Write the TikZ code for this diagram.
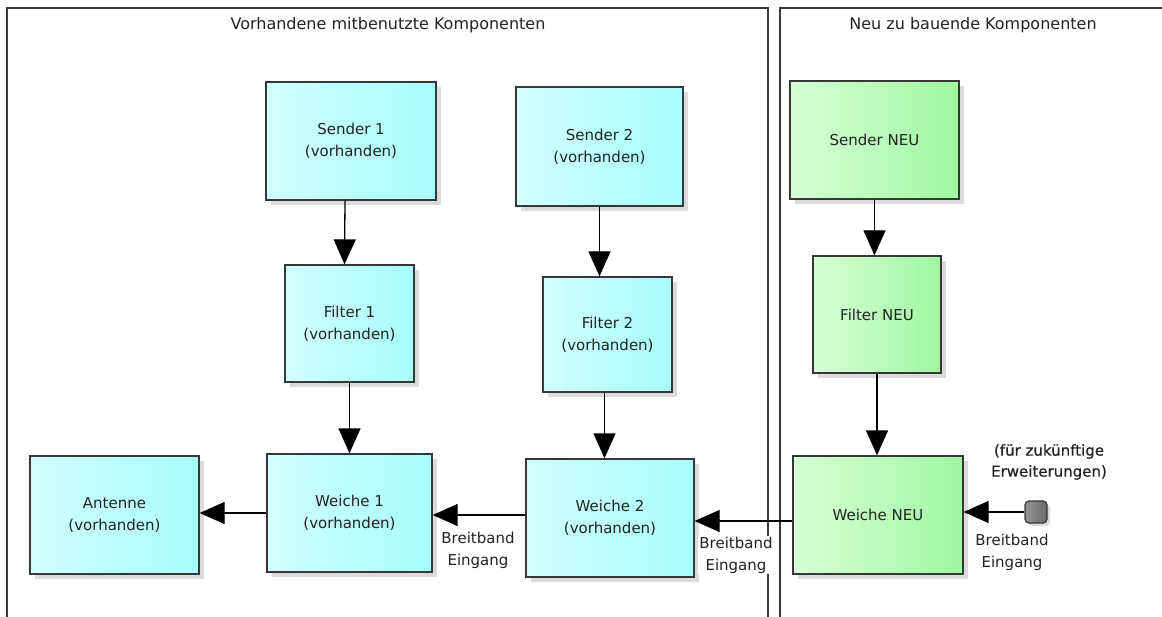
\documentclass[tikz,border=0pt]{standalone}
\usepackage{fontspec}
\setmainfont{DejaVu Sans}
\newfontfamily\semibfont[FakeBold=0.6]{DejaVu Sans}
\usetikzlibrary{arrows.meta,shadows}
\definecolor{cyanL}{RGB}{210,255,255}
\definecolor{cyanR}{RGB}{166,252,252}
\definecolor{grnL}{RGB}{214,255,214}
\definecolor{grnR}{RGB}{160,248,160}
\definecolor{frm}{RGB}{55,55,55}
\definecolor{txt}{RGB}{35,35,35}
\tikzset{
  box/.style={draw=frm, line width=1.3pt, inner sep=2pt, align=center,
    font=\fontsize{15}{22}\selectfont, text=txt,
    drop shadow={shadow xshift=5pt, shadow yshift=-5pt, fill=black!14, opacity=1}},
  oldbox/.style={box, left color=cyanL, right color=cyanR},
  newbox/.style={box, left color=grnL, right color=grnR},
  arr/.style={draw=black, line width=1.3pt, -{Triangle[length=25pt,width=22pt]}},
  lbl/.style={align=center, font=\fontsize{15}{22}\selectfont, text=txt, inner sep=1pt},
  ttl/.style={font=\fontsize{16}{20}\selectfont, text=txt},
  frame/.style={draw=frm, line width=1.3pt},
}
\begin{document}
\begin{tikzpicture}[x=1pt,y=-1pt]
\useasboundingbox[fill=white] (0,0) rectangle (1162,617);
% frames
\draw[frame] (7,617) -- (7,8) -- (768,8) -- (768,617);
\draw[frame] (780,617) -- (780,8) -- (1162,8);
\node[ttl] (t1) at (388,25) {Vorhandene mitbenutzte Komponenten};
\node[ttl] (t2) at (973,25) {Neu zu bauende Komponenten};
% boxes
\node[oldbox, minimum width=170pt, minimum height=118pt] (s1) at (351,141) {Sender 1\\(vorhanden)};
\node[oldbox, minimum width=129pt, minimum height=117pt] (f1) at (349.5,323.5) {Filter 1\\(vorhanden)};
\node[oldbox, minimum width=167pt, minimum height=119pt] (s2) at (599.5,146.5) {Sender 2\\(vorhanden)};
\node[oldbox, minimum width=129pt, minimum height=115pt] (f2) at (607.5,334.5) {Filter 2\\(vorhanden)};
\node[oldbox, minimum width=169pt, minimum height=118pt] (ant) at (114.5,515) {Antenne\\(vorhanden)};
\node[oldbox, minimum width=165pt, minimum height=118pt] (w1) at (349.5,513) {Weiche 1\\(vorhanden)};
\node[oldbox, minimum width=168pt, minimum height=118pt] (w2) at (610,518) {Weiche 2\\(vorhanden)};
\node[newbox, minimum width=169pt, minimum height=118pt] (sN) at (874.5,140) {Sender NEU};
\node[newbox, minimum width=128pt, minimum height=117pt] (fN) at (877,314.5) {Filter NEU};
\node[newbox, minimum width=170pt, minimum height=118pt] (wN) at (878,515) {Weiche NEU};
\node[draw=frm, line width=1.2pt, rounded corners=4pt, minimum size=22pt, inner sep=0pt,
  left color=black!42, right color=black!58,
  drop shadow={shadow xshift=3pt, shadow yshift=-3pt, fill=black!14, opacity=1}] (port) at (1036,512) {};
% labels
\node[lbl] (l1) at (478,550) {Breitband\\Eingang};
\node[lbl, fill=white] (l2) at (736,555) {Breitband\\Eingang};
\node[lbl] (l3) at (1012,552) {Breitband\\Eingang};
\node[lbl, font=\semibfont\fontsize{15}{21}\selectfont] (l4) at (1049,462) {(für zukünftige\\Erweiterungen)};
% connectors
\draw[arr] ([xshift=-6pt]s1.south) -- ([xshift=-5pt]f1.north);
\draw[arr] (f1.south) -- (f1.south |- w1.north);
\draw[arr] (s2.south) -- (s2.south |- f2.north);
\draw[arr] ([xshift=-3pt]f2.south) -- ([xshift=-3pt]f2.south |- w2.north);
\draw[arr] (sN.south) -- (sN.south |- fN.north);
\draw[arr] (fN.south) -- (fN.south |- wN.north);
\draw[arr] (w1.west) -- (w1.west -| ant.east);
\draw[arr] ([yshift=3pt]w2.west) -- ([yshift=3pt]w2.west -| w1.east);
\draw[arr] ([yshift=-6pt]wN.west) -- ([yshift=-6pt]wN.west -| w2.east);
\draw[arr] (port.west) -- (port.west -| wN.east);
\end{tikzpicture}
\end{document}
